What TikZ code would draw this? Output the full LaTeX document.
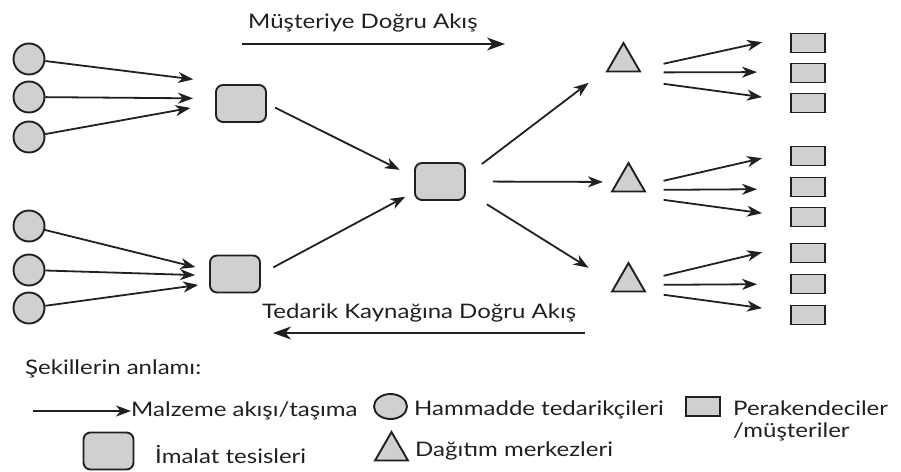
\documentclass[tikz,border=0pt]{standalone}
\usepackage{fontspec}
\setmainfont{Lato}[FakeStretch=1.2]
\usepackage{tikz}
\usetikzlibrary{arrows.meta,shapes.geometric}
\definecolor{inkdark}{HTML}{231F20}
\definecolor{fillgray}{HTML}{CED0D2}
\tikzset{every node/.append style={font=\fontsize{20}{23}\selectfont,text=inkdark}}

\begin{document}
\begin{tikzpicture}[x=1pt,y=-1pt,>={Stealth[length=15pt,width=11pt,inset=4.5pt]},
  supplier/.style={circle,draw=inkdark,fill=fillgray,line width=1.9pt,minimum size=31pt,inner sep=0pt},
  plant/.style={rectangle,rounded corners=7pt,draw=inkdark,fill=fillgray,line width=1.9pt,minimum width=50pt,minimum height=37pt,inner sep=0pt},
  depot/.style={regular polygon,regular polygon sides=3,draw=inkdark,fill=fillgray,line width=1.9pt,minimum size=38pt,inner sep=0pt},
  shop/.style={rectangle,draw=inkdark,fill=fillgray,line width=1.9pt,minimum width=34pt,minimum height=19pt,inner sep=0pt},
  flow/.style={->,draw=inkdark,line width=1.8pt},
  lbl/.style={anchor=base west,inner sep=0pt}]
  \useasboundingbox (0,0) rectangle (901,471);

  % suppliers, plants, depots, shops
  \foreach \y [count=\i] in {59,97,137,226,270,308}
    \node[supplier] (s\i) at (29,\y) {};
  \node[plant] (m1) at (241,103.5) {};
  \node[plant] (m2) at (235,274) {};
  \node[plant] (m3) at (440,181.5) {};
  \node[depot] (t1) at (623.5,62) {};
  \node[depot] (t2) at (628.5,182) {};
  \node[depot] (t3) at (628.5,282) {};
  \foreach \y [count=\i] in {43,73,103,156,187,217,253,284,315}
    \node[shop] (r\i) at (808,\y) {};

  % material flow
  \draw[flow,shorten >=22] (s1) -- ([yshift=2]m1.north west);
  \draw[flow,shorten >=22] (s2) -- ([yshift=5]m1.west);
  \draw[flow,shorten >=25] (s3) -- (m1.west);
  \draw[flow,shorten >=14] (s4) -- ([yshift=3.5]m2.west);
  \draw[flow,shorten >=14] (s5) -- ([yshift=-1.5]m2.west);
  \draw[flow,shorten >=11] (s6) -- ([yshift=-9.5]m2.west);
  \draw[flow,shorten <=9,shorten >=16] (m1.east) -- ([yshift=4.5]m3.west);
  \draw[flow,shorten <=14,shorten >=10] (m2.east) -- ([yshift=-10.5]m3.west);
  \draw[flow,shorten <=20,shorten >=21] ([yshift=5.4]m3.east) -- ([yshift=2.4]t1.corner 2);
  \draw[flow,shorten <=27,shorten >=13.5] (m3.east) -- (t2);
  \draw[flow,shorten <=24.6,shorten >=25.8] ([yshift=-9.7]m3.east) -- ([yshift=11]t3.corner 2);
  \foreach \dep/\shp/\ds/\de/\ss/\se in {t1/r1/3.9/6.9/22.5/28.6, t1/r2/0/1/22/33,
      t1/r3/-8.4/2.1/22.2/28.3, t2/r4/7.8/4.2/17.4/28.7, t2/r5/2.5/-2/17/33,
      t2/r6/-5.1/0/17.2/28.3, t3/r7/12.6/7.4/17.4/28.7, t3/r8/7.5/0/17/33,
      t3/r9/0/3.1/17.2/28.3}
    \draw[flow,shorten <=\ss,shorten >=\se] ([yshift=\ds]\dep.corner 3) -- ([yshift=\de]\shp.west);

  % direction labels
  \node[lbl] (fwdlbl) at (248,28) {Müşteriye Doğru Akış};
  \coordinate (fwdS) at (242,44);
  \coordinate (fwdE) at (505,44);
  \draw[flow,>={Stealth[length=18pt,width=13pt,inset=5.5pt]}] (fwdS) -- (fwdE);
  \node[lbl] (bwdlbl) at (262,318) {Tedarik Kaynağına Doğru Akış};
  \coordinate (bwdS) at (585,333);
  \coordinate (bwdE) at (273,333);
  \draw[flow,>={Stealth[length=18pt,width=13pt,inset=5.5pt]}] (bwdS) -- (bwdE);

  % legend
  \node[lbl] (keytitle) at (25,374) {Şekillerin anlamı:};
  \coordinate (keyS) at (33,411);
  \coordinate (keyE) at (131,411);
  \draw[flow] (keyS) -- (keyE);
  \node[lbl] (keyflow) at (131,416) {Malzeme akışı/taşıma};
  \node[supplier,ellipse,minimum width=33pt,minimum height=25pt] (keysup) at (390.5,406.5) {};
  \node[lbl] (keysuptxt) at (414,415) {Hammadde tedarikçileri};
  \node[shop] (keyshop) at (703,406.5) {};
  \node[lbl] (keyshoptxt) at (733,415) {Perakendeciler};
  \node[lbl] (keyshoptxt2) at (733,437) {/müşteriler};
  \node[plant] (keyplant) at (108.5,451) {};
  \node[lbl] (keyplanttxt) at (155,463) {İmalat tesisleri};
  \node[depot] (keydepot) at (391.5,451) {};
  \node[lbl] (keydepottxt) at (415,456) {Dağıtım merkezleri};
\end{tikzpicture}
\end{document}
